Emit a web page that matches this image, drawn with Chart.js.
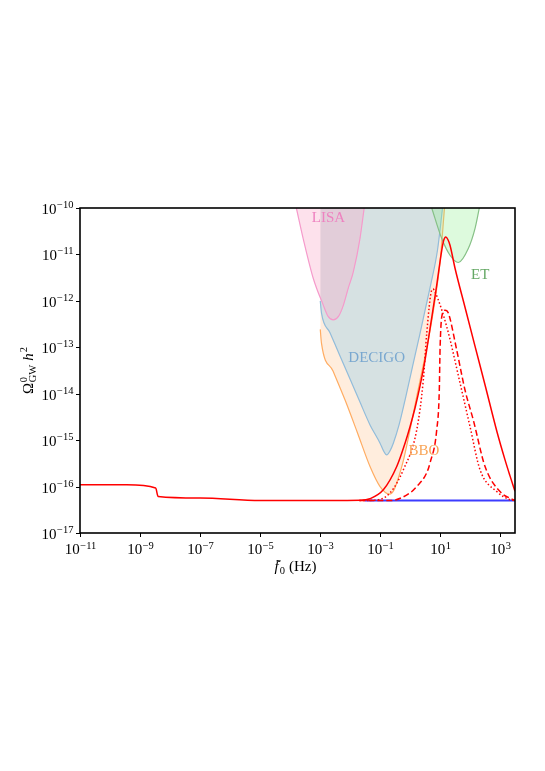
<!DOCTYPE html>
<html>
<head>
<meta charset="utf-8">
<script src="https://cdn.jsdelivr.net/npm/chart.js@4.4.0/dist/chart.umd.min.js"></script>
<style>
html, body { margin: 0; padding: 0; background: #fff; }
canvas { display: block; }
</style>
</head>
<body>
<canvas id="gw" width="545" height="771"></canvas>
<script>
// ===== GW energy spectrum vs detector sensitivities =====

// Axis ticks (Hz and Omega h^2)
const xTicks = [1e-11, 1e-9, 1e-7, 1e-5, 1e-3, 1e-1, 1e1, 1e3];
const yTicks = [1e-10, 1e-11, 1e-12, 1e-13, 1e-14, 1e-15, 1e-16, 1e-17];

// Detector sensitivity curves
const lisaF = [1.6e-4, 2.7e-4, 5.9e-4, 1.26e-3, 1.8e-3, 2.7e-3, 4.1e-3, 5.9e-3, 8.6e-3, 1.26e-2, 2.1e-2, 2.9e-2];
const lisaOmega = [1e-10, 2.2e-11, 3.0e-12, 8.1e-13, 4.7e-13, 3.9e-13, 4.7e-13, 8.1e-13, 1.9e-12, 4.2e-12, 2.2e-11, 1e-10];

const decigoF = [1.0e-3, 1.1e-3, 2.11e-3, 4.55e-3, 9.8e-3, 2.1e-2, 4.54e-2, 9.8e-2, 0.128, 0.163, 0.21, 0.271, 0.42, 0.665, 1.18, 2.10, 3.2, 4.88, 8.0, 11.8];
const decigoOmega = [9.9e-13, 5.45e-13, 2.06e-13, 6.5e-14, 2.07e-14, 6.6e-15, 2.13e-15, 8.6e-16, 5.87e-16, 4.8e-16, 5.87e-16, 8.6e-16, 2.13e-15, 7.3e-15, 3.85e-14, 2.0e-13, 6.97e-13, 2.4e-12, 1.23e-11, 1e-10];

const bboF = [1.0e-3, 1.1e-3, 2.66e-3, 6.7e-3, 1.74e-2, 4.54e-2, 9.8e-2, 0.2, 0.286, 0.42, 0.593, 0.805, 1.14, 1.67, 2.64, 4.19, 6.63, 9.73, 13.7];
const bboOmega = [2.43e-13, 1.21e-13, 3.08e-14, 7.3e-15, 1.43e-15, 2.7e-16, 1.0e-16, 6.9e-17, 8.5e-17, 1.7e-16, 3.76e-16, 9.17e-16, 2.72e-15, 9.4e-15, 3.95e-14, 1.74e-13, 1.04e-12, 6.8e-12, 1e-10];

const etF = [5.15, 11.1, 20.9, 39.5, 85, 142, 198];
const etOmega = [1e-10, 2.2e-11, 9.6e-12, 6.7e-12, 1.34e-11, 3.6e-11, 1e-10];

// Spectra
const baseF = [0.03, 3050];
const baseOmega = [5.0e-17, 5.0e-17];

const solidF = [1e-11, 3.6e-10, 3.3e-9, 4.0e-9, 1e-7, 1e-5, 2e-3, 2.1e-2, 4.5e-2, 0.126, 0.352, 0.665, 0.975, 1.43, 2.10, 3.08, 4.88, 7.55, 11.1, 12.9, 15.1, 17.9, 20.9, 30.7, 66, 142, 307, 769, 1419, 2080, 3050];
const solidOmega = [1.09e-16, 1.09e-16, 9.3e-17, 6.1e-17, 5.65e-17, 5.0e-17, 5.0e-17, 5.07e-17, 5.46e-17, 8.5e-17, 2.7e-16, 8.6e-16, 1.95e-15, 4.93e-15, 1.47e-14, 5.3e-14, 3.49e-13, 2.18e-12, 1.23e-11, 2.02e-11, 2.38e-11, 2.07e-11, 1.58e-11, 5.05e-12, 7.3e-13, 1.06e-13, 1.54e-14, 1.5e-15, 3.76e-16, 1.7e-16, 7.9e-17];

const dotF = [2e-2, 6.65e-2, 0.21, 0.583, 1.63, 2.70, 3.51, 5.15, 5.69, 6.63, 16.3, 45.1, 97, 209, 751, 2080, 3050];
const dotOmega = [5.0e-17, 5.1e-17, 7.3e-17, 2.3e-16, 1.66e-15, 1.97e-14, 2.0e-13, 1.7e-12, 1.79e-12, 1.56e-12, 2.76e-13, 1.7e-14, 1.95e-15, 2.3e-16, 7.8e-17, 5.2e-17, 5.0e-17];

const dashF = [2e-2, 0.21, 0.975, 1.63, 3.51, 4.52, 7.55, 9.2, 9.73, 11.1, 14.3, 18.4, 35, 66, 125, 307, 968, 2690, 3050];
const dashOmega = [5.0e-17, 5.0e-17, 7.3e-17, 1.0e-16, 1.98e-16, 3.24e-16, 1.66e-15, 1.2e-14, 8.7e-14, 4.5e-13, 6.3e-13, 5.45e-13, 8.7e-14, 1.2e-14, 2.7e-15, 2.7e-16, 7.8e-17, 5.2e-17, 5.0e-17];

// Detector names, anchored in data coordinates (left, baseline)
const detNames = ["LISA", "DECIGO", "ET", "BBO"];
const detNameF = [5.2e-4, 8.6e-3, 105, 0.86];
const detNameOmega = [5.0e-11, 4.9e-14, 2.9e-12, 4.8e-16];
const detNameColors = ["#ee82c0", "#7aa8d0", "#64a864", "#f8a558"];

const SERIF = '"Liberation Serif", "DejaVu Serif", serif';

const pts = (fs, os) => fs.map((f, i) => ({ x: f, y: os[i] }));

function curve(fs, os, color, width, extra) {
    return Object.assign({
        data: pts(fs, os),
        borderColor: color,
        borderWidth: width,
        pointRadius: 0,
        fill: false,
        clip: 0,
        cubicInterpolationMode: "monotone"
    }, extra || {});
}

// Draw "10^n" in the matplotlib mathtext way
function drawPower(ctx, exp, x, y, align) {
    const base = "10";
    const sup = exp < 0 ? "\u2212" + Math.abs(exp) : String(exp);
    ctx.font = "15px " + SERIF;
    const wb = ctx.measureText(base).width;
    ctx.font = "10.5px " + SERIF;
    const ws = ctx.measureText(sup).width;
    const x0 = align === "right" ? x - wb - ws - 0.5 : x - (wb + ws + 0.5) / 2;
    ctx.font = "15px " + SERIF;
    ctx.fillText(base, x0, y);
    ctx.font = "10.5px " + SERIF;
    ctx.fillText(sup, x0 + wb + 0.5, y - 5.5);
}

const framePlugin = {
    id: "frame",
    afterDatasetsDraw(chart) {
        const { ctx, chartArea: a, scales } = chart;
        ctx.save();
        ctx.fillStyle = "#000";
        ctx.strokeStyle = "#000";
        ctx.textBaseline = "alphabetic";
        ctx.textAlign = "left";

        // detector names
        detNames.forEach((name, i) => {
            ctx.font = "15px " + SERIF;
            ctx.fillStyle = detNameColors[i];
            ctx.fillText(name, scales.x.getPixelForValue(detNameF[i]), scales.y.getPixelForValue(detNameOmega[i]));
        });
        ctx.fillStyle = "#000";

        // spines
        ctx.lineWidth = 1.6;
        ctx.strokeRect(a.left, a.top, a.right - a.left, a.bottom - a.top);

        // ticks and tick labels
        ctx.lineWidth = 1;
        xTicks.forEach(v => {
            const px = Math.round(scales.x.getPixelForValue(v)) + 0.5;
            ctx.beginPath();
            ctx.moveTo(px, a.bottom);
            ctx.lineTo(px, a.bottom + 4);
            ctx.stroke();
            drawPower(ctx, Math.round(Math.log10(v)), px, a.bottom + 21, "center");
        });
        yTicks.forEach(v => {
            const py = Math.round(scales.y.getPixelForValue(v)) + 0.5;
            ctx.beginPath();
            ctx.moveTo(a.left - 4, py);
            ctx.lineTo(a.left, py);
            ctx.stroke();
            drawPower(ctx, Math.round(Math.log10(v)), a.left - 6.5, py + 5.3, "right");
        });

        // x axis title: f~_0 (Hz)
        ctx.font = "italic 15px " + SERIF;
        const wf = ctx.measureText("f").width;
        ctx.font = "10.5px " + SERIF;
        const w0 = ctx.measureText("0").width;
        ctx.font = "15px " + SERIF;
        const wHz = ctx.measureText("(Hz)").width;
        const total = wf + 1 + w0 + 4 + wHz;
        const x = (a.left + a.right) / 2 - total / 2 - 2;
        const yb = a.bottom + 38;
        ctx.font = "italic 15px " + SERIF;
        ctx.fillText("f", x, yb);
        ctx.font = "14px " + SERIF;
        ctx.fillText("\u02DC", x + 1.5, yb - 1.5);
        ctx.font = "10.5px " + SERIF;
        ctx.fillText("0", x + wf + 1, yb + 3);
        ctx.font = "15px " + SERIF;
        ctx.fillText("(Hz)", x + wf + 1 + w0 + 4, yb);

        // y axis title: Omega^0_GW h^2
        ctx.translate(32.5, (a.top + a.bottom) / 2);
        ctx.rotate(-Math.PI / 2);
        ctx.font = "15px " + SERIF;
        const wO = ctx.measureText("\u03A9").width;
        ctx.font = "10.5px " + SERIF;
        const wGW = ctx.measureText("GW").width;
        ctx.font = "italic 15px " + SERIF;
        const wh = ctx.measureText("h").width;
        ctx.font = "10.5px " + SERIF;
        const w2 = ctx.measureText("2").width;
        const totY = wO + 0.5 + wGW + 4 + wh + 1 + w2;
        let t = -totY / 2;
        ctx.font = "15px " + SERIF;
        ctx.fillText("\u03A9", t, 0);
        t += wO + 0.5;
        ctx.font = "10.5px " + SERIF;
        ctx.fillText("0", t, -6);
        ctx.fillText("GW", t, 3.5);
        t += wGW + 4;
        ctx.font = "italic 15px " + SERIF;
        ctx.fillText("h", t, 0);
        t += wh + 1;
        ctx.font = "10.5px " + SERIF;
        ctx.fillText("2", t, -6);
        ctx.restore();
    }
};

const ctx = document.getElementById("gw").getContext("2d");
new Chart(ctx, {
    type: "line",
    data: {
        datasets: [
            curve(bboF, bboOmega, "#ffac62", 1.2, { fill: "end", backgroundColor: "rgba(255,127,14,0.14)", order: 9 }),
            curve(decigoF, decigoOmega, "#92bcda", 1.2, { fill: "end", backgroundColor: "rgba(120,200,240,0.3)", order: 8 }),
            curve(lisaF, lisaOmega, "#f59acb", 1.2, { fill: "end", backgroundColor: "rgba(250,170,200,0.35)", order: 7 }),
            curve(etF, etOmega, "#86c086", 1.2, { fill: "end", backgroundColor: "rgba(144,238,144,0.3)", order: 6 }),
            curve(baseF, baseOmega, "#3c3cff", 2, { order: 5, cubicInterpolationMode: "default", tension: 0 }),
            curve(solidF, solidOmega, "#ff0000", 1.5, { order: 4 }),
            curve(dotF, dotOmega, "#ff0000", 1.5, { order: 3, borderDash: [1.5, 2.2] }),
            curve(dashF, dashOmega, "#ff0000", 1.5, { order: 2, borderDash: [6, 3] })
        ]
    },
    options: {
        responsive: false,
        animation: false,
        layout: { padding: { left: 80, right: 30, top: 208, bottom: 238 } },
        scales: {
            x: { type: "logarithmic", min: 1e-11, max: 3050, display: false },
            y: { type: "logarithmic", min: 1e-17, max: 1e-10, display: false }
        },
        plugins: {
            legend: { display: false },
            tooltip: { enabled: false }
        }
    },
    plugins: [framePlugin]
});
</script>
</body>
</html>
